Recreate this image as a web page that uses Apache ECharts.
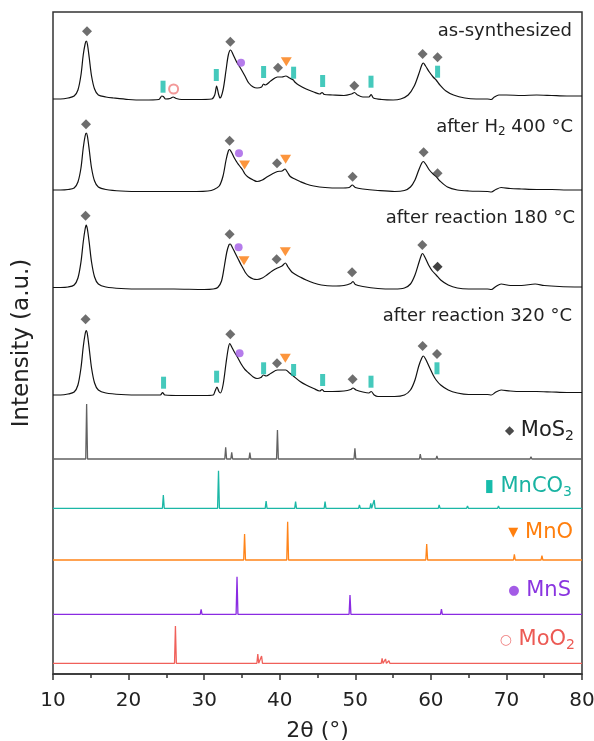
<!DOCTYPE html>
<html><head><meta charset="utf-8">
<script src="https://cdn.jsdelivr.net/npm/echarts/dist/echarts.min.js"></script>
<style>html,body{margin:0;padding:0;background:#fff}#c{width:594px;height:741px}</style>
</head><body><div id="c"></div>
<script>
// ---- axis ----
const xMin = 10, xMax = 80, xStep = 10;
const yMin = 0, yMax = 662;

// ---- measured patterns: [2theta, intensity above own baseline] ----
const asSynth = [[10,1],[11,1],[12,2],[12.8,4],[13.3,10],[13.7,25],[14.0,45],[14.25,56],[14.4,59],[14.55,56],[14.8,42],[15.1,24],[15.5,11],[16.0,5],[17,3],[18,2],[20,0.5],[22,0],[24.0,0.5],[24.4,4],[24.6,3.5],[24.9,1],[25.5,1.5],[25.9,3],[26.3,1.5],[27,0.5],[29,0.5],[31.0,1],[31.4,5],[31.65,14],[31.9,6],[32.1,2],[32.5,10],[32.9,30],[33.2,45],[33.5,50],[33.8,46],[34.3,38],[34.8,32],[35.4,24],[35.9,17],[36.5,13],[37.0,12],[37.6,13],[37.85,16],[38.1,15],[38.8,19],[39.7,23],[40.3,23],[40.8,24],[41.3,22],[41.8,20],[42.0,18],[42.5,15],[43.5,11],[44.5,8],[45.3,6],[45.6,7.5],[45.9,5.5],[47,5],[48.5,4.5],[49.5,6],[49.9,7.5],[50.3,5],[51.0,3],[51.8,3],[52.1,5.5],[52.4,2],[53.5,0.5],[55,0],[56,1],[57,5],[57.8,14],[58.4,26],[58.8,35],[59.0,37],[59.3,34],[59.8,28],[60.3,23],[60.7,20],[61.2,15],[62.0,9],[63.0,5],[64.5,2],[66,1],[67.5,1],[68.0,0.5],[68.4,3],[69.0,5],[70,5],[72,4.5],[74,5],[76,4.5],[78,4],[80,4]];
const afterH2 = [[10,1.5],[11,1.5],[12,2],[12.8,3.5],[13.3,9.5],[13.7,23.5],[14.0,43.5],[14.25,55.5],[14.4,58.5],[14.55,55.5],[14.8,41.5],[15.1,23.5],[15.5,10.5],[16.0,4.5],[17,2],[19,0.5],[22,0],[26,0],[29,0],[30.5,0.5],[31.3,2],[32.0,5.5],[32.5,15.5],[32.9,31.5],[33.2,40.5],[33.35,42],[33.6,39.5],[34.0,33.5],[34.4,28.5],[34.8,24.5],[35.1,21.5],[35.4,17.5],[35.8,14.5],[36.5,11.5],[37.0,10],[37.7,11.5],[38.3,14.5],[39.0,17.5],[39.7,20],[40.3,20.5],[40.7,22.5],[41.0,19.5],[41.4,15],[42.0,12.5],[42.7,10],[43.5,7.5],[44.5,5.5],[46,4],[48,3.5],[49.2,4],[49.6,6.5],[50.0,4],[51,2.5],[53,1],[55.2,0],[56.5,1],[57.3,4.5],[57.9,11.5],[58.4,21.5],[58.8,28.5],[59.0,30],[59.3,27.5],[59.8,21.5],[60.3,17.5],[60.7,15],[61.2,10.5],[62.2,4.5],[63.5,1.5],[65,0.5],[67.5,0],[68.0,-0.5],[68.6,2],[69.3,4],[70.5,3],[72,2.5],[74,2],[76,2],[78,1.5],[80,1.5]];
const after180 = [[10,1.5],[11,1.5],[12,2],[12.8,4],[13.3,11],[13.7,27],[14.0,47],[14.25,60],[14.4,64],[14.55,60],[14.8,46],[15.1,27],[15.5,12],[16.0,5],[17,2],[19,0.5],[22,0],[26,0],[30,-0.5],[31.2,0],[31.8,1.5],[32.3,8],[32.7,24],[33.0,37],[33.3,44.5],[33.45,45],[33.7,42],[34.1,36],[34.5,30],[34.9,24],[35.2,20],[35.5,16],[35.9,12.5],[36.5,10],[37.0,9.5],[37.7,11],[38.3,14],[39.0,18],[39.7,21],[40.3,23],[40.75,26],[41.1,22],[41.6,17],[42.2,14],[42.7,12],[43.5,9],[44.5,6],[45.5,4],[47,3],[48.5,3.5],[49.4,5.5],[49.7,7.5],[50.0,4.5],[51,2.5],[53,0.5],[55.2,0],[56.5,1],[57.3,5],[57.9,14],[58.4,26],[58.75,34],[58.9,35.5],[59.2,32],[59.7,24],[60.2,18],[60.7,14],[61.3,9],[62.3,4],[63.5,1],[65,0],[67.5,0],[68.0,-0.5],[68.6,2.5],[69.3,5],[70.5,3.5],[72,3.5],[73.8,5],[75,3.5],[77,2.5],[80,2]];
const after320 = [[10,0.5],[11,0.5],[12,1.5],[12.8,3.5],[13.3,10.5],[13.7,27.5],[14.0,48.5],[14.25,61.5],[14.4,65],[14.55,61.5],[14.8,46.5],[15.1,27.5],[15.5,12.5],[16.0,5.5],[17,2.5],[19,1],[22,0.5],[24.2,0.5],[24.5,3],[24.8,0.5],[27,0],[30,0],[31.2,0.5],[31.45,4.5],[31.7,8.5],[31.95,4],[32.15,2.5],[32.5,10.5],[32.9,32.5],[33.2,47.5],[33.4,52],[33.65,48.5],[34.0,43.5],[34.4,38.5],[34.9,31.5],[35.4,26],[35.9,22.5],[36.5,18.5],[37.0,17],[37.5,18],[37.85,20.5],[38.2,19.5],[38.8,22],[39.7,25.5],[40.3,25.5],[40.8,25.5],[41.3,22.5],[41.8,19.5],[42.7,14],[43.5,10.5],[44.5,7],[45.3,4.5],[45.6,6],[45.9,4],[47,4],[48.5,4.5],[49.4,6],[49.7,7.5],[50.1,5.5],[51.0,3.5],[51.8,2.5],[52.1,4],[52.5,0.5],[53.0,-1],[55.2,-1],[56.5,0.5],[57.3,5.5],[57.9,15.5],[58.4,29.5],[58.8,37.5],[59.0,39.5],[59.3,36.5],[59.8,28.5],[60.3,20.5],[60.7,15.5],[61.3,10.5],[62.3,5.5],[63.5,2.5],[65,1],[67.5,1],[68.0,0.5],[68.6,3.5],[69.3,5.5],[70.5,4.5],[72,4],[74,4],[76,3.5],[78,3],[80,3]];
const traceOffsets = [574, 482.5, 385, 278.5];

// ---- reference peak lists: [2theta, height] ----
const mos2Peaks = [[14.45,55],[29.1,1.7],[32.85,11.7],[33.65,6.7],[36.05,6.3],[39.7,29],[44.25,1.7],[49.95,10.7],[56.25,1.3],[58.6,5],[60.3,2],[60.8,3],[62.85,0.8],[68.9,0.8],[70.4,1],[73.25,2.3],[76.35,1.7]];
const mnco3Peaks = [[24.6,13.3],[31.9,37.6],[38.2,7.3],[42.1,6.6],[46.0,6.6],[50.55,3.3],[52.05,5],[52.5,8.3],[61.1,3.3],[64.85,2.3],[66.5,0.8],[68.95,2.3],[73.4,0.8],[79.5,0.8]];
const mnoPeaks = [[35.35,26],[41.05,38.3],[59.45,16],[71.05,5.7],[74.7,4.3]];
const mnsPeaks = [[29.6,5],[34.35,37.6],[49.3,19.3],[58.45,1.6],[61.4,5.3],[72.2,2]];
const moo2Peaks = [[18.65,0.7],[26.2,37.3],[31.9,0.6],[37.1,9.3],[37.6,7.3],[41.9,0.8],[49.9,1],[53.55,5],[54.0,4.3],[54.45,2.5],[60.3,1.5],[60.8,1.5],[67.2,1.5],[68.3,0.7]];
const refOffsets = [215, 165.7, 114, 59.7, 10.7];

// ---- phase markers: [2theta, trace index, height above that trace baseline] ----
const mos2Marks = [[14.50,0,68.7],[33.46,0,58.3],[39.77,0,32.3],[49.87,0,14.3],[58.91,0,46],[60.89,0,42.7],
  [14.37,1,67.2],[33.37,1,50.8],[39.64,1,28.2],[49.65,1,14.8],[59.04,1,39.2],[60.89,1,18.2],
  [14.31,2,73.3],[33.37,2,54.7],[39.59,2,29.7],[49.57,2,16.7],[58.87,2,44],
  [14.31,3,76.2],[33.46,3,61.2],[39.64,3,32.2],[49.65,3,16.2],[58.91,3,49.5],[60.81,3,41.5]];
const mos2MarksDark = [[60.89,2,22.3]];
const mnco3Marks = [[24.56,0,13.3],[31.61,0,25],[37.87,0,28],[41.84,0,27.3],[45.68,0,19],[52.08,0,18.3],[60.89,0,28.3],
  [24.63,3,12.8],[31.65,3,18.8],[37.87,3,27.2],[41.84,3,25.5],[45.68,3,15.5],[52.08,3,13.8],[60.81,3,27.2]];
const mnoMarks = [[40.87,0,38.3],[35.35,1,26.5],[40.78,1,32.2],[35.27,2,28.3],[40.74,2,37.3],[40.74,3,37.2]];
const mnsMarks = [[34.88,0,37.3],[34.61,1,38.2],[34.56,2,41.7],[34.69,3,42.2]];
const moo2Marks = [[25.96,0,11]];

const traceLabels = ['as-synthesized', 'after H{s|2} 400 °C', 'after reaction 180 °C', 'after reaction 320 °C'];
const refLabels = ['{sym|◆} MoS{s|2}', '{sym|▮} MnCO{s|3}', '{sym|▼} MnO', '{sym|●} MnS', '{sym|○} MoO{s|2}'];

// ---- styles ----
const FONT = '"DejaVu Sans", Verdana, sans-serif';
const refColors = ['#626262', '#1bb7a6', '#ff8419', '#8a2be2', '#f0605a'];
const refTextColors = ['#222222', '#19b3a2', '#ff7f0e', '#8a35e0', '#ec5a54'];
const refSymStyle = [
  {fontSize: 12, fill: '#4a4a4a'}, {fontSize: 17, fill: '#17bcab'}, {fontSize: 13, fill: '#ff7f0e'},
  {fontSize: 13, fill: '#a35be6'}, {fontSize: 14, fill: '#f08080'}];
const traceLabelPos = [[572, 31], [573, 127], [575, 218], [572, 316]];
const refLabelPos = [[574, 431], [572, 487], [573, 533], [571, 591], [575, 640]];

function stick(peaks, off) {
  const out = [[xMin, off]];
  peaks.forEach(p => { out.push([p[0] - 0.12, off], [p[0], off + p[1]], [p[0] + 0.12, off]); });
  out.push([xMax, off]);
  return out;
}
function shift(arr, off) { return arr.map(p => [p[0], p[1] + off]); }
function marks(arr) { return arr.map(m => [m[0], traceOffsets[m[1]] + m[2]]); }

const series = [];
[asSynth, afterH2, after180, after320].forEach((d, i) => {
  series.push({type: 'line', data: shift(d, traceOffsets[i]), symbol: 'none', smooth: 0.3,
    lineStyle: {color: '#111', width: 1.2}, silent: true, z: 2});
});
[mos2Peaks, mnco3Peaks, mnoPeaks, mnsPeaks, moo2Peaks].forEach((d, i) => {
  series.push({type: 'line', data: stick(d, refOffsets[i]), symbol: 'none',
    lineStyle: {color: refColors[i], width: 1.3}, silent: true, z: 2});
});
series.push({type: 'scatter', data: marks(mos2Marks), symbol: 'diamond', symbolSize: [10, 10], itemStyle: {color: '#4a4a4a'}, z: 5});
series.push({type: 'scatter', data: marks(mos2MarksDark), symbol: 'diamond', symbolSize: [10, 10], itemStyle: {color: '#111'}, z: 5});
series.push({type: 'scatter', data: marks(mnco3Marks), symbol: 'rect', symbolSize: [5, 12], itemStyle: {color: '#17bcab'}, z: 5});
series.push({type: 'scatter', data: marks(mnoMarks), symbol: 'triangle', symbolRotate: 180, symbolSize: [11, 9], itemStyle: {color: '#fb7a0c'}, z: 5});
series.push({type: 'scatter', data: marks(mnsMarks), symbol: 'circle', symbolSize: 8, itemStyle: {color: '#a35be6'}, z: 5});
series.push({type: 'scatter', data: marks(moo2Marks), symbol: 'emptyCircle', symbolSize: 9, itemStyle: {color: '#f08080', borderWidth: 1.5}, z: 5});

const graphic = [];
traceLabels.forEach((t, i) => {
  graphic.push({type: 'text', x: traceLabelPos[i][0], y: traceLabelPos[i][1], z: 10,
    style: {text: t, fontSize: 18, fontFamily: FONT, fill: '#222', align: 'right', verticalAlign: 'middle',
      rich: {s: {fontSize: 12, fontFamily: FONT, fill: '#222', padding: [9, 0, 0, 0]}}}});
});
refLabels.forEach((t, i) => {
  graphic.push({type: 'text', x: refLabelPos[i][0], y: refLabelPos[i][1], z: 10,
    style: {text: t, fontSize: 21, fontFamily: FONT, fill: refTextColors[i], align: 'right', verticalAlign: 'middle',
      rich: {s: {fontSize: 14, fontFamily: FONT, fill: refTextColors[i], padding: [11, 0, 0, 0]},
             sym: Object.assign({fontFamily: 'DejaVu Sans'}, refSymStyle[i])}}});
});

const chart = echarts.init(document.getElementById('c'), null, {renderer: 'canvas'});
chart.setOption({
  animation: false,
  backgroundColor: '#fff',
  grid: {left: 53, right: 12, top: 12, bottom: 67, show: true, borderColor: '#333', borderWidth: 1.5,
    containLabel: false, outerBoundsMode: 'none'},
  xAxis: {type: 'value', min: xMin, max: xMax, interval: xStep,
    name: '2θ (°)', nameLocation: 'middle', nameGap: 46, nameMoveOverlap: false,
    nameTextStyle: {fontSize: 22, color: '#222', fontFamily: FONT},
    axisLine: {show: true, onZero: false, lineStyle: {color: '#333', width: 1.5}},
    axisTick: {show: true, inside: false, length: 6, lineStyle: {color: '#333', width: 1.5}},
    minorTick: {show: true, splitNumber: 2, length: 4, lineStyle: {color: '#333', width: 1.5}},
    axisLabel: {fontSize: 20, color: '#222', fontFamily: FONT, margin: 17,
      formatter: v => xMin <= v && v <= xMax ? String(v) : ''},
    splitLine: {show: false}, minorSplitLine: {show: false}},
  yAxis: {type: 'value', min: yMin, max: yMax,
    name: 'Intensity (a.u.)', nameLocation: 'middle', nameGap: 19, nameRotate: 90, nameMoveOverlap: false,
    nameTextStyle: {fontSize: 23, color: '#222', fontFamily: FONT},
    axisLine: {show: false}, axisTick: {show: false}, axisLabel: {show: false}, splitLine: {show: false}},
  series: series,
  graphic: graphic
});
</script>
</body></html>
